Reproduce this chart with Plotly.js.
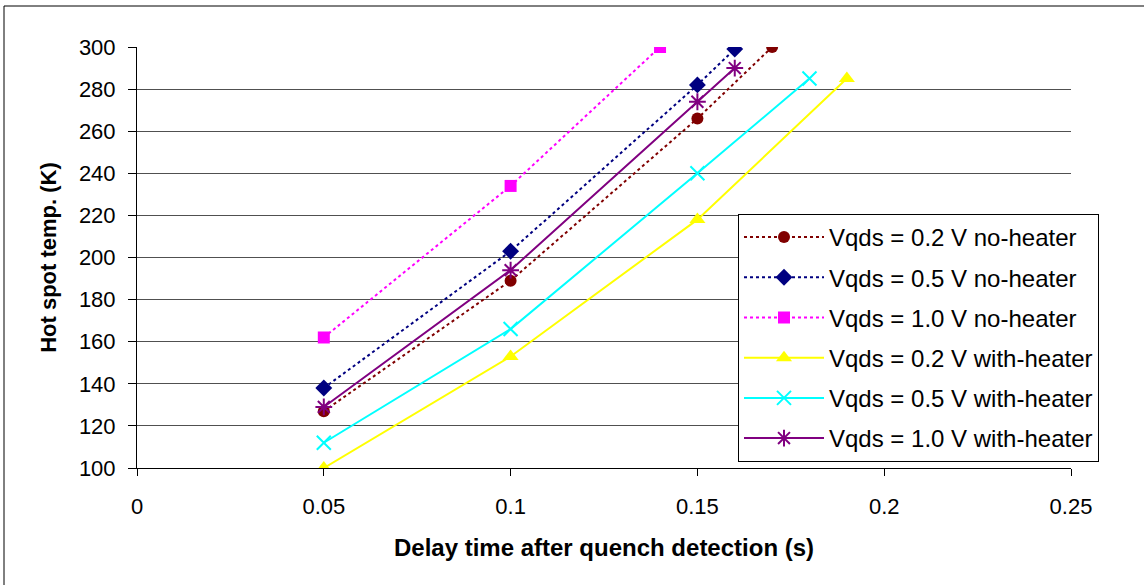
<!DOCTYPE html>
<html>
<head>
<meta charset="utf-8">
<script src="https://cdn.plot.ly/plotly-3.0.1.min.js"></script>
<style>
html,body{margin:0;padding:0;background:#fff;overflow:hidden;}
#chart{width:1144px;height:585px;}
</style>
</head>
<body>
<div id="chart"></div>
<script>
// Delay time after quench detection (s)
const x_02_no = [0.05, 0.10, 0.15, 0.17];
const y_02_no = [127, 189, 266, 300];
const x_05_no = [0.05, 0.10, 0.15, 0.16];
const y_05_no = [138, 203, 282, 299];
const x_10_no = [0.05, 0.10, 0.14];
const y_10_no = [162, 234, 300];
const x_02_with = [0.05, 0.10, 0.15, 0.19];
const y_02_with = [100, 153, 218, 285];
const x_05_with = [0.05, 0.10, 0.15, 0.18];
const y_05_with = [112, 166, 240, 285];
const x_10_with = [0.05, 0.10, 0.15, 0.16];
const y_10_with = [129, 194, 274, 290];

const names = [
  'Vqds = 0.2 V no-heater',
  'Vqds = 0.5 V no-heater',
  'Vqds = 1.0 V no-heater',
  'Vqds = 0.2 V with-heater',
  'Vqds = 0.5 V with-heater',
  'Vqds = 1.0 V with-heater'
];
const xTicks = [0, 0.05, 0.1, 0.15, 0.2, 0.25];
const xTickText = ['0', '0.05', '0.1', '0.15', '0.2', '0.25'];
const yTicks = [100, 120, 140, 160, 180, 200, 220, 240, 260, 280, 300];

const xs = [x_02_no, x_05_no, x_10_no, x_02_with, x_05_with, x_10_with];
const ys = [y_02_no, y_05_no, y_10_no, y_02_with, y_05_with, y_10_with];
const colors = ['#800000', '#000080', '#FF00FF', '#FFFF00', '#00FFFF', '#800080'];
const symbols = ['circle', 'diamond', 'square', 'triangle-up', 'x-thin-open', 'asterisk-open'];
const sizes = [12, 13, 12, 14, 14, 14];
const dashes = ['dot', 'dot', 'dot', 'solid', 'solid', 'solid'];

const traces = names.map((n, i) => ({
  type: 'scatter',
  mode: 'lines+markers',
  name: n,
  legendgroup: 'g' + i,
  x: xs[i],
  y: ys[i],
  line: {color: colors[i], width: 2, dash: dashes[i]},
  marker: {symbol: symbols[i], size: sizes[i], color: colors[i],
           line: {color: colors[i], width: (i >= 4 ? 2 : 0)}}
}));

const L = 137, R = 1071, T = 47, B = 468;
const pw = R - L, ph = B - T;
const px = v => (v - L) / pw;
const py = v => (B - v) / ph;

const FONT = 'Arial, "Liberation Sans", sans-serif';

const layout = {
  width: 1144, height: 585,
  margin: {l: L, r: 1144 - R, t: T, b: 585 - B},
  paper_bgcolor: '#fff',
  plot_bgcolor: '#fff',
  font: {family: FONT, color: '#000'},
  showlegend: true,
  legend: {
    x: px(738), y: py(214), xanchor: 'left', yanchor: 'top',
    bordercolor: '#000', borderwidth: 1, bgcolor: '#fff',
    font: {size: 24, family: FONT, color: '#000'},
    traceorder: 'grouped', tracegroupgap: 6, itemwidth: 80
  },
  xaxis: {
    range: [0, 0.25], tickvals: xTicks, ticktext: xTickText,
    showgrid: false, zeroline: false,
    showline: true, linecolor: '#000', linewidth: 1,
    ticks: 'outside', ticklen: 7, tickcolor: '#000',
    tickfont: {size: 22},
    ticklabelstandoff: 12,
    title: {text: '<b>Delay time after quench detection (s)</b>', font: {size: 24}, standoff: 20}
  },
  yaxis: {
    range: [100, 300], tickvals: yTicks,
    showgrid: true, gridcolor: '#505050', gridwidth: 1,
    zeroline: false,
    showline: true, linecolor: '#000', linewidth: 1,
    ticks: 'outside', ticklen: 8, tickcolor: '#000',
    tickfont: {size: 22},
    ticklabelstandoff: 8,
    title: {text: '<b>Hot spot temp. (K)</b>', font: {size: 22}, standoff: 16}
  },
  shapes: [{
    type: 'rect', xref: 'paper', yref: 'paper',
    x0: px(4), x1: px(1160), y0: py(600), y1: py(6),
    line: {color: '#000', width: 1}, fillcolor: 'rgba(0,0,0,0)', layer: 'below'
  }]
};

Plotly.newPlot('chart', traces, layout, {staticPlot: true, displayModeBar: false});
</script>
</body>
</html>
